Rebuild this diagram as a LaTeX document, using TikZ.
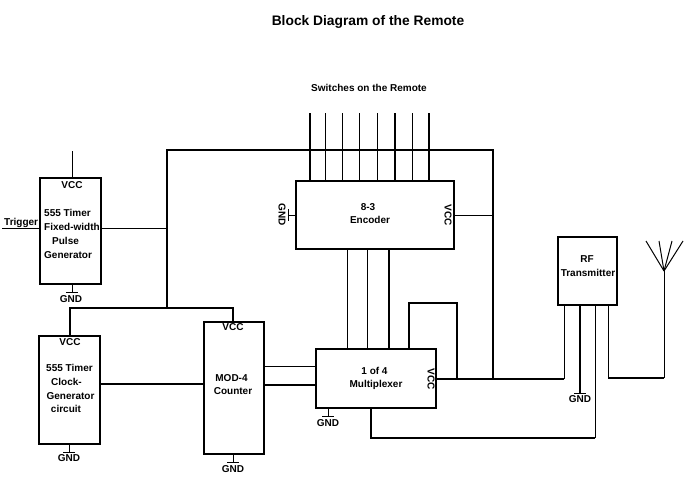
\documentclass[tikz,border=0pt]{standalone}
\usepackage{fontspec}
\setmainfont{Liberation Sans}
\begin{document}
\begin{tikzpicture}[x=1pt,y=-1pt,
  box/.style={draw,line width=1.2pt,inner sep=0pt},
  thn/.style={line width=1pt},
  thk/.style={line width=2pt},
  lbl/.style={font=\bfseries\fontsize{10}{11}\selectfont,inner sep=0pt},
  ttl/.style={font=\bfseries\fontsize{13.8}{15}\selectfont,inner sep=0pt}]
\useasboundingbox[fill=white] (0,0) rectangle (700,500);

% title
\node[ttl] (title) at (368,22) {Block Diagram of the Remote};
\node[lbl] (swl) at (369,88) {Switches on the Remote};

% boxes
\node[box,minimum width=61pt,minimum height=106pt] (pulse) at (70.5,231) {};
\node[box,minimum width=61pt,minimum height=108pt] (clock) at (69.5,390) {};
\node[box,minimum width=60pt,minimum height=132pt] (mod) at (234,388) {};
\node[box,minimum width=158pt,minimum height=68pt] (enc) at (375,215) {};
\node[box,minimum width=120pt,minimum height=59pt] (mux) at (376,378.5) {};
\node[box,minimum width=59pt,minimum height=68pt] (rf) at (587.5,271) {};

% texts in boxes
\node[lbl] (pv) at (72,185) {VCC};
\node[lbl,anchor=west] (p1) at (44,213) {555 Timer};
\node[lbl,anchor=west] (p2) at (44,227) {Fixed-width};
\node[lbl,anchor=west] (p3) at (52,241) {Pulse};
\node[lbl,anchor=west] (p4) at (44,255) {Generator};

\node[lbl] (cv) at (70,342) {VCC};
\node[lbl] (c1) at (69.5,368) {555 Timer};
\node[lbl] (c2) at (66.5,382) {Clock-};
\node[lbl] (c3) at (70.5,396) {Generator};
\node[lbl] (c4) at (66,409) {circuit};

\node[lbl] (mv) at (233,327) {VCC};
\node[lbl] (m1) at (231.5,378) {MOD-4};
\node[lbl] (m2) at (233,391) {Counter};

\node[lbl] (e1) at (368,207) {8-3};
\node[lbl] (e2) at (370,220) {Encoder};
\node[lbl,rotate=-90] (eg) at (282,215) {GND};
\node[lbl,rotate=-90] (ev) at (448,215) {VCC};

\node[lbl] (x1) at (374.5,371) {1 of 4};
\node[lbl] (x2) at (376,385) {Multiplexer};
\node[lbl,rotate=-90] (xv) at (431,379) {VCC};

\node[lbl] (r1) at (587,259) {RF};
\node[lbl] (r2) at (588,273) {Transmitter};

\node[lbl,anchor=base west] (trig) at (4,225) {Trigger};

% GND symbols
\coordinate (gp) at (72,292);
\draw[thn] (gp |- pulse.south) -- (gp) (gp) ++(-6,0) -- ++(12,0);
\node[lbl] (gpl) at (71,299) {GND};
\coordinate (gc) at (69,452);
\draw[thn] (gc |- clock.south) -- (gc) (gc) ++(-6,0) -- ++(12,0);
\node[lbl] (gcl) at (69,458.5) {GND};
\coordinate (gm) at (233,462);
\draw[thn] (gm |- mod.south) -- (gm) (gm) ++(-6,0) -- ++(12,0);
\node[lbl] (gml) at (233,469) {GND};
\coordinate (gx) at (328,416);
\draw[thn] (gx |- mux.south) -- (gx) (gx) ++(-6,0) -- ++(12,0);
\node[lbl] (gxl) at (328,423) {GND};
\coordinate (ge) at (288,215);
\draw[thn] (enc.west) -- (ge) (ge) ++(0,-6) -- ++(0,12);
\coordinate (gr) at (580,393);
\draw[thk] (gr |- rf.south) -- (gr);
\draw[thn] (gr) ++(-6,0) -- ++(12,0);
\node[lbl] (grl) at (580,399.5) {GND};

% pulse generator connections
\coordinate (pvt) at (72,151);
\draw[thn] (pvt) -- (pvt |- pulse.north);
\coordinate (tl) at (2,228);
\draw[thn] (tl) -- (tl -| pulse.west);
\coordinate (jp) at (167,228);
\draw[thn] (jp -| pulse.east) -- (jp);

% bus
\coordinate (bl) at (167,150);
\coordinate (br) at (493,150);
\coordinate (bm) at (167,308);
\coordinate (br2) at (493,379);
\draw[thk] (bm) -- (bl) -- (br) -- (br2);
\coordinate (vl) at (70,308);
\coordinate (vr) at (233,308);
\draw[thk] (vl |- clock.north) -- (vl) -- (vr) -- (vr |- mod.north);

% switches
\foreach \x/\w in {310/thk,325/thn,342/thn,359/thn,377/thn,395/thk,412/thn,429/thk}{
  \coordinate (sw) at (\x,113);
  \draw[\w] (sw) -- (sw |- enc.north);
}

% encoder VCC
\coordinate (ev2) at (493,215);
\draw[thn] (ev2 -| enc.east) -- (ev2);

% encoder to mux
\foreach \x/\w in {347/thn,367/thn,389/thk}{
  \coordinate (em) at (\x,300);
  \draw[\w] (em |- enc.south) -- (em |- mux.north);
}

% loop on mux top
\coordinate (l1) at (409,303);
\coordinate (l2) at (457,303);
\coordinate (l3) at (457,379);
\draw[thk] (l1 |- mux.north) -- (l1) -- (l2) -- (l3);

% mux VCC to RF
\coordinate (rp1) at (564,379);
\draw[thk] (rp1 -| mux.east) -- (rp1);
\draw[thn] (rp1) -- (rp1 |- rf.south);

% mux bottom to RF
\coordinate (mb1) at (371,438);
\coordinate (mb2) at (595,438);
\draw[thk] (mb1 |- mux.south) -- (mb1) -- (mb2);
\draw[thn] (mb2) -- (mb2 |- rf.south);

% clock to mod, mod to mux
\coordinate (cm) at (150,384);
\draw[thk] (cm -| clock.east) -- (cm -| mod.west);
\coordinate (mx1) at (290,366);
\coordinate (mx2) at (290,385);
\draw[thn] (mx1 -| mod.east) -- (mx1 -| mux.west);
\draw[thk] (mx2 -| mod.east) -- (mx2 -| mux.west);

% antenna
\coordinate (ap) at (664,271);
\coordinate (ab) at (664,378);
\coordinate (rp4) at (608,378);
\draw[thn] (rp4 |- rf.south) -- (rp4);
\draw[thk] (rp4) -- (ab);
\draw[thn] (ab) -- (ap);
\foreach \x in {646,659,672,683}{
  \coordinate (at) at (\x,241);
  \draw[thn] (ap) -- (at);
}
\end{tikzpicture}
\end{document}
